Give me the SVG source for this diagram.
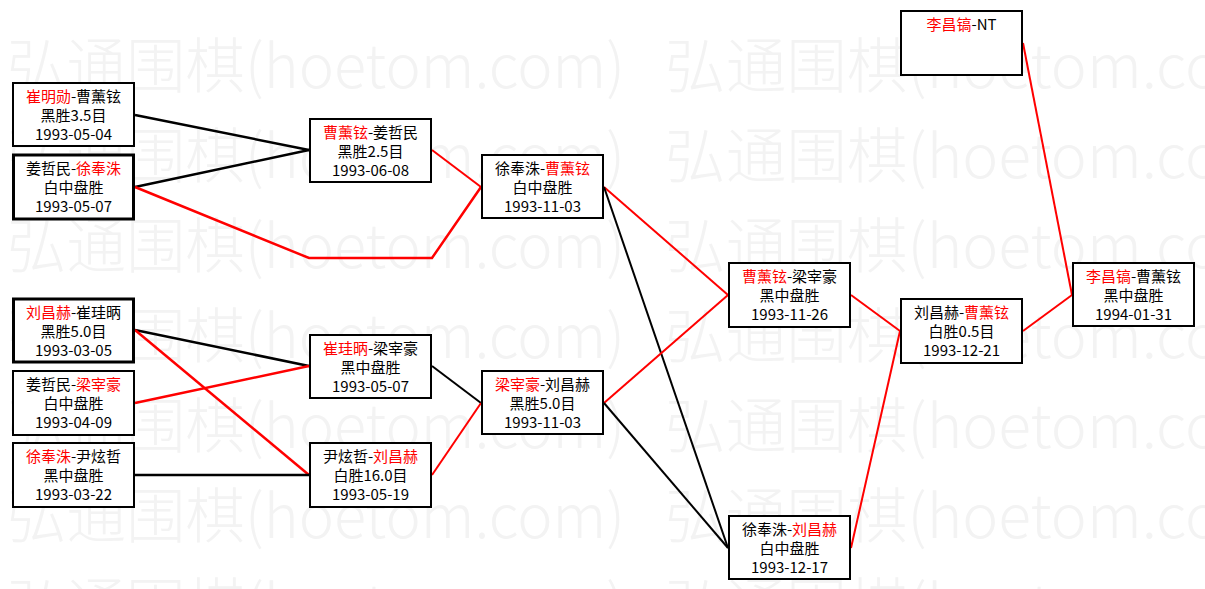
<svg xmlns="http://www.w3.org/2000/svg" width="1205" height="589" viewBox="0 0 1205 589">
<style>
.wm{font-family:"Noto Sans CJK SC","Noto Sans",sans-serif;font-size:60px;font-weight:300;fill:#f3f3f3}
.box{fill:#ffffff;stroke:#000000;stroke-width:2}
.thick{stroke-width:3}
.t{font-family:"Noto Sans CJK SC","Noto Sans",sans-serif;font-size:15px;fill:#000000;text-anchor:middle}
.r{fill:#ff0000}
.cb{fill:none;stroke:#000000;stroke-width:2}
.cr{fill:none;stroke:#ff0000;stroke-width:2}
.w{stroke-width:2.5}
</style>
<rect width="1205" height="589" fill="#ffffff"/>
<g id="watermark">
<text class="wm" x="7" y="88" textLength="618" lengthAdjust="spacingAndGlyphs">弘通围棋(hoetom.com)</text>
<text class="wm" x="665" y="88" textLength="630" lengthAdjust="spacingAndGlyphs">弘通围棋(hoetom.com)</text>
<text class="wm" x="7" y="178" textLength="618" lengthAdjust="spacingAndGlyphs">弘通围棋(hoetom.com)</text>
<text class="wm" x="665" y="178" textLength="630" lengthAdjust="spacingAndGlyphs">弘通围棋(hoetom.com)</text>
<text class="wm" x="7" y="268" textLength="618" lengthAdjust="spacingAndGlyphs">弘通围棋(hoetom.com)</text>
<text class="wm" x="665" y="268" textLength="630" lengthAdjust="spacingAndGlyphs">弘通围棋(hoetom.com)</text>
<text class="wm" x="7" y="358" textLength="618" lengthAdjust="spacingAndGlyphs">弘通围棋(hoetom.com)</text>
<text class="wm" x="665" y="358" textLength="630" lengthAdjust="spacingAndGlyphs">弘通围棋(hoetom.com)</text>
<text class="wm" x="7" y="448" textLength="618" lengthAdjust="spacingAndGlyphs">弘通围棋(hoetom.com)</text>
<text class="wm" x="665" y="448" textLength="630" lengthAdjust="spacingAndGlyphs">弘通围棋(hoetom.com)</text>
<text class="wm" x="7" y="538" textLength="618" lengthAdjust="spacingAndGlyphs">弘通围棋(hoetom.com)</text>
<text class="wm" x="665" y="538" textLength="630" lengthAdjust="spacingAndGlyphs">弘通围棋(hoetom.com)</text>
<text class="wm" x="7" y="628" textLength="618" lengthAdjust="spacingAndGlyphs">弘通围棋(hoetom.com)</text>
<text class="wm" x="665" y="628" textLength="630" lengthAdjust="spacingAndGlyphs">弘通围棋(hoetom.com)</text>
</g>
<g id="connectors">
<line class="cb w" x1="135" y1="115" x2="309" y2="150"/>
<line class="cb w" x1="135" y1="187" x2="309" y2="150"/>
<polyline class="cr w" points="135,187 309,258 432,258 481,187"/>
<line class="cr" x1="432" y1="150" x2="481" y2="187"/>
<line class="cb w" x1="135" y1="330" x2="309" y2="366"/>
<line class="cr w" x1="135" y1="330" x2="309" y2="475"/>
<line class="cr w" x1="135" y1="403" x2="309" y2="366"/>
<line class="cb w" x1="135" y1="475" x2="309" y2="475"/>
<line class="cb" x1="432" y1="366" x2="481" y2="403"/>
<line class="cr" x1="432" y1="475" x2="481" y2="403"/>
<line class="cr" x1="604" y1="187" x2="728" y2="295"/>
<line class="cb" x1="604" y1="187" x2="728" y2="548"/>
<line class="cr" x1="604" y1="403" x2="728" y2="295"/>
<line class="cb" x1="604" y1="403" x2="728" y2="548"/>
<line class="cr" x1="851" y1="295" x2="900" y2="331"/>
<line class="cr" x1="851" y1="548" x2="900" y2="331"/>
<line class="cr" x1="1023" y1="331" x2="1072" y2="295"/>
<line class="cr" x1="1023" y1="43" x2="1072" y2="295"/>
</g>
<g id="nA">
<rect class="box" x="13" y="83" width="121" height="63"/>
<text class="t" x="73.5" y="102"><tspan class="r">崔明勋</tspan>-曹薰铉</text>
<text class="t" x="73.5" y="121">黑胜3.5目</text>
<text class="t" x="73.5" y="140">1993-05-04</text>
</g>
<g id="nB">
<rect class="box thick" x="13.5" y="155" width="120" height="64"/>
<text class="t" x="73.5" y="174">姜哲民-<tspan class="r">徐奉洙</tspan></text>
<text class="t" x="73.5" y="193">白中盘胜</text>
<text class="t" x="73.5" y="212">1993-05-07</text>
</g>
<g id="nC">
<rect class="box thick" x="13.5" y="299" width="120" height="63"/>
<text class="t" x="73.5" y="318"><tspan class="r">刘昌赫</tspan>-崔珪昞</text>
<text class="t" x="73.5" y="337">黑胜5.0目</text>
<text class="t" x="73.5" y="356">1993-03-05</text>
</g>
<g id="nD">
<rect class="box" x="13" y="371" width="121" height="64"/>
<text class="t" x="73.5" y="390">姜哲民-<tspan class="r">梁宰豪</tspan></text>
<text class="t" x="73.5" y="409">白中盘胜</text>
<text class="t" x="73.5" y="428">1993-04-09</text>
</g>
<g id="nE">
<rect class="box" x="13" y="443" width="121" height="64"/>
<text class="t" x="73.5" y="462"><tspan class="r">徐奉洙</tspan>-尹炫哲</text>
<text class="t" x="73.5" y="481">黑中盘胜</text>
<text class="t" x="73.5" y="500">1993-03-22</text>
</g>
<g id="nF">
<rect class="box" x="310" y="119" width="121" height="63"/>
<text class="t" x="370.5" y="138"><tspan class="r">曹薰铉</tspan>-姜哲民</text>
<text class="t" x="370.5" y="157">黑胜2.5目</text>
<text class="t" x="370.5" y="176">1993-06-08</text>
</g>
<g id="nG">
<rect class="box" x="310" y="335" width="121" height="63"/>
<text class="t" x="370.5" y="354"><tspan class="r">崔珪昞</tspan>-梁宰豪</text>
<text class="t" x="370.5" y="373">黑中盘胜</text>
<text class="t" x="370.5" y="392">1993-05-07</text>
</g>
<g id="nH">
<rect class="box" x="310" y="443" width="121" height="64"/>
<text class="t" x="370.5" y="462">尹炫哲-<tspan class="r">刘昌赫</tspan></text>
<text class="t" x="370.5" y="481">白胜16.0目</text>
<text class="t" x="370.5" y="500">1993-05-19</text>
</g>
<g id="nI">
<rect class="box" x="482" y="155" width="121" height="63"/>
<text class="t" x="542.5" y="174">徐奉洙-<tspan class="r">曹薰铉</tspan></text>
<text class="t" x="542.5" y="193">白中盘胜</text>
<text class="t" x="542.5" y="212">1993-11-03</text>
</g>
<g id="nJ">
<rect class="box" x="482" y="371" width="121" height="63"/>
<text class="t" x="542.5" y="390"><tspan class="r">梁宰豪</tspan>-刘昌赫</text>
<text class="t" x="542.5" y="409">黑胜5.0目</text>
<text class="t" x="542.5" y="428">1993-11-03</text>
</g>
<g id="nK">
<rect class="box" x="729" y="263" width="121" height="64"/>
<text class="t" x="789.5" y="282"><tspan class="r">曹薰铉</tspan>-梁宰豪</text>
<text class="t" x="789.5" y="301">黑中盘胜</text>
<text class="t" x="789.5" y="320">1993-11-26</text>
</g>
<g id="nL">
<rect class="box" x="729" y="516" width="121" height="63"/>
<text class="t" x="789.5" y="535">徐奉洙-<tspan class="r">刘昌赫</tspan></text>
<text class="t" x="789.5" y="554">白中盘胜</text>
<text class="t" x="789.5" y="573">1993-12-17</text>
</g>
<g id="nM">
<rect class="box" x="901" y="11" width="121" height="64"/>
<text class="t" x="961.5" y="30"><tspan class="r">李昌镐</tspan>-NT</text>
</g>
<g id="nN">
<rect class="box" x="901" y="299" width="121" height="64"/>
<text class="t" x="961.5" y="318">刘昌赫-<tspan class="r">曹薰铉</tspan></text>
<text class="t" x="961.5" y="337">白胜0.5目</text>
<text class="t" x="961.5" y="356">1993-12-21</text>
</g>
<g id="nO">
<rect class="box" x="1073" y="263" width="121" height="63"/>
<text class="t" x="1133.5" y="282"><tspan class="r">李昌镐</tspan>-曹薰铉</text>
<text class="t" x="1133.5" y="301">黑中盘胜</text>
<text class="t" x="1133.5" y="320">1994-01-31</text>
</g>
</svg>
